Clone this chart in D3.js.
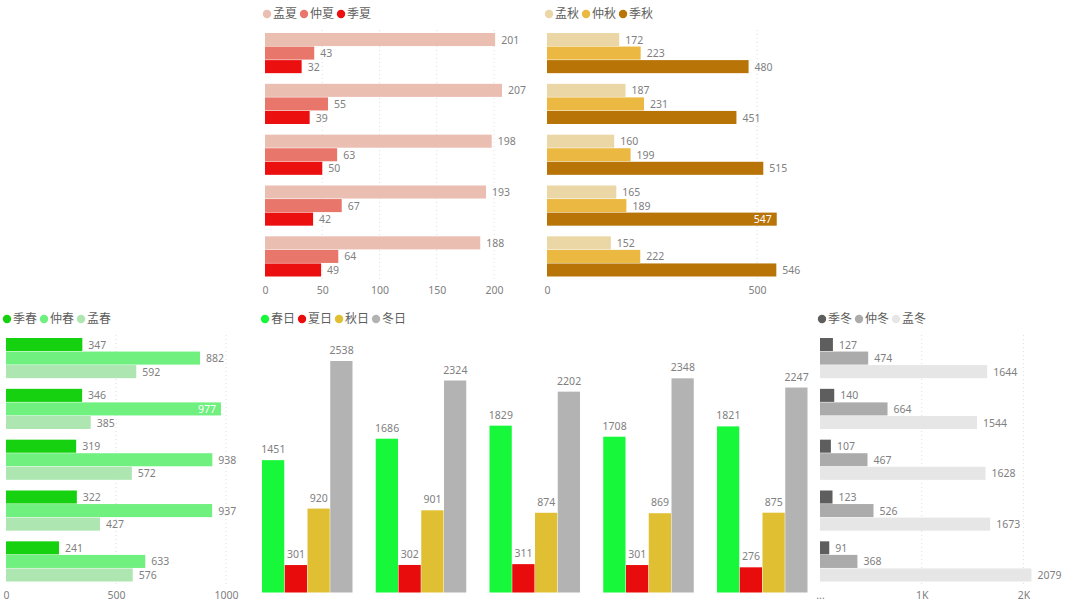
<!DOCTYPE html>
<meta charset="utf-8" />
<script src="https://d3js.org/d3.v7.min.js"></script>
<style>
    body { margin: 0; background: #fff; }
    text { font-family: 'Segoe UI', 'Noto Sans', 'Noto Sans CJK SC', sans-serif; }
</style>
<div id="my_dataviz"></div>

<script>
    // data
    const groups = ['1', '2', '3', '4', '5']

    const summerNames = ['孟夏', '仲夏', '季夏']
    const summer1 = [201, 207, 198, 193, 188]
    const summer2 = [43, 55, 63, 67, 64]
    const summer3 = [32, 39, 50, 42, 49]

    const autumnNames = ['孟秋', '仲秋', '季秋']
    const autumn1 = [172, 187, 160, 165, 152]
    const autumn2 = [223, 231, 199, 189, 222]
    const autumn3 = [480, 451, 515, 547, 546]

    const springNames = ['季春', '仲春', '孟春']
    const spring1 = [347, 346, 319, 322, 241]
    const spring2 = [882, 977, 938, 937, 633]
    const spring3 = [592, 385, 572, 427, 576]

    const winterNames = ['季冬', '仲冬', '孟冬']
    const winter1 = [127, 140, 107, 123, 91]
    const winter2 = [474, 664, 467, 526, 368]
    const winter3 = [1644, 1544, 1628, 1673, 2079]

    const dayNames = ['春日', '夏日', '秋日', '冬日']
    const daySpring = [1451, 1686, 1829, 1708, 1821]
    const daySummer = [301, 302, 311, 301, 276]
    const dayAutumn = [920, 901, 874, 869, 875]
    const dayWinter = [2538, 2324, 2202, 2348, 2247]

    const summerTicks = [0, 50, 100, 150, 200]
    const autumnTicks = [0, 500]
    const springTicks = [0, 500, 1000]
    const winterTicks = [0, 1000, 2000]
    const winterTickLabels = ['...', '1K', '2K']

    const svg = d3.select('#my_dataviz')
        .append('svg')
        .attr('width', 1080)
        .attr('height', 606)

    const labelColor = '#808080'
    const legendColor = '#605E5C'

    // legend: coloured dot + name, laid out left to right
    function legend(x, y, names, colors) {
        const g = svg.append('g').attr('transform', `translate(${x},${y})`)
        let cx = 0
        names.forEach((n, i) => {
            g.append('circle').attr('cx', cx + 4).attr('cy', 0).attr('r', 4.2).attr('fill', colors[i])
            const t = g.append('text')
                .attr('x', cx + 10)
                .attr('y', 0)
                .attr('dy', '0.36em')
                .attr('font-size', '12px')
                .attr('fill', legendColor)
                .text(n)
            cx += 10 + t.node().getComputedTextLength() + 3
        })
    }

    // clustered horizontal bar chart
    function hbar(o) {
        const x = d3.scaleLinear().domain(o.domain).range(o.xRange)
        const y0 = d3.scaleBand().domain(groups).range(o.yRange).paddingInner(0.2)
        const y1 = d3.scaleBand().domain(d3.range(o.series.length)).range([0, y0.bandwidth()])

        // dotted grid
        svg.append('g')
            .selectAll('line')
            .data(o.ticks.filter((d) => d > 0))
            .join('line')
            .attr('x1', (d) => x(d)).attr('x2', (d) => x(d))
            .attr('y1', o.yRange[0] - 3).attr('y2', o.yRange[1] + 2)
            .attr('stroke', '#dedede')
            .attr('stroke-dasharray', '1,3')

        // axis
        const axis = svg.append('g')
            .attr('transform', `translate(0,${o.yRange[1] + 4})`)
            .call(d3.axisBottom(x).tickValues(o.ticks).tickSize(0).tickPadding(6)
                .tickFormat((d, i) => (o.tickLabels ? o.tickLabels[i] : d)))
        axis.select('.domain').remove()
        axis.selectAll('text').attr('fill', labelColor).attr('font-size', '10.5px')
            .style('font-family', "'Segoe UI', 'Noto Sans', sans-serif")

        o.series.forEach((vals, si) => {
            const g = svg.append('g')
            g.selectAll('rect')
                .data(vals)
                .join('rect')
                .attr('x', x(0))
                .attr('y', (d, i) => y0(groups[i]) + y1(si))
                .attr('width', (d) => x(d) - x(0))
                .attr('height', y1.bandwidth() - 0.5)
                .attr('fill', o.colors[si])

            g.selectAll('text')
                .data(vals)
                .join('text')
                .attr('x', (d) => (d >= o.insideFrom ? x(d) - 5 : x(d) + 6))
                .attr('y', (d, i) => y0(groups[i]) + y1(si) + y1.bandwidth() / 2)
                .attr('dy', '0.36em')
                .attr('text-anchor', (d) => (d >= o.insideFrom ? 'end' : 'start'))
                .attr('font-size', '10.5px')
                .attr('fill', (d) => (d >= o.insideFrom ? '#fff' : labelColor))
                .text((d) => d)
        })

        legend(o.legendX, o.legendY, o.names, o.colors)
    }

    hbar({
        names: summerNames,
        series: [summer1, summer2, summer3],
        colors: ['#EBBEB2', '#E9766A', '#EC0F0F'],
        domain: [0, 200], xRange: [265, 494], yRange: [33, 277],
        ticks: summerTicks, insideFrom: Infinity,
        legendX: 263, legendY: 14
    })

    hbar({
        names: autumnNames,
        series: [autumn1, autumn2, autumn3],
        colors: ['#EBD7A6', '#EBB942', '#B87406'],
        domain: [0, 500], xRange: [547, 757], yRange: [33, 277],
        ticks: autumnTicks, insideFrom: 547,
        legendX: 545, legendY: 14
    })

    hbar({
        names: springNames,
        series: [spring1, spring2, spring3],
        colors: ['#15D10F', '#6FF07F', '#ADE6B1'],
        domain: [0, 1000], xRange: [6, 226], yRange: [338, 582],
        ticks: springTicks, insideFrom: 977,
        legendX: 3, legendY: 319
    })

    hbar({
        names: winterNames,
        series: [winter1, winter2, winter3],
        colors: ['#5E5E5E', '#ABABAB', '#E6E6E6'],
        domain: [0, 2000], xRange: [820, 1023.4], yRange: [338, 582],
        ticks: winterTicks, tickLabels: winterTickLabels, insideFrom: Infinity,
        legendX: 818, legendY: 319
    })

    // clustered column chart (days)
    const daySeries = [daySpring, daySummer, dayAutumn, dayWinter]
    const dayColors = ['#17F83A', '#E90C0C', '#E0C032', '#B3B3B3']
    const cx0 = d3.scaleBand().domain(groups).range([262, 808]).paddingInner(0.2)
    const cx1 = d3.scaleBand().domain(d3.range(daySeries.length)).range([0, cx0.bandwidth()])
    const cy = d3.scaleLinear().domain([0, 2800]).range([592.5, 337.1])

    daySeries.forEach((vals, si) => {
        const g = svg.append('g')
        g.selectAll('rect')
            .data(vals)
            .join('rect')
            .attr('x', (d, i) => cx0(groups[i]) + cx1(si))
            .attr('y', (d) => cy(d))
            .attr('width', cx1.bandwidth() - 0.5)
            .attr('height', (d) => cy(0) - cy(d))
            .attr('fill', dayColors[si])

        g.selectAll('text')
            .data(vals)
            .join('text')
            .attr('x', (d, i) => cx0(groups[i]) + cx1(si) + cx1.bandwidth() / 2)
            .attr('y', (d) => cy(d) - 7)
            .attr('text-anchor', 'middle')
            .attr('font-size', '10.5px')
            .attr('fill', labelColor)
            .text((d) => d)
    })
    legend(261, 319, dayNames, dayColors)
</script>
